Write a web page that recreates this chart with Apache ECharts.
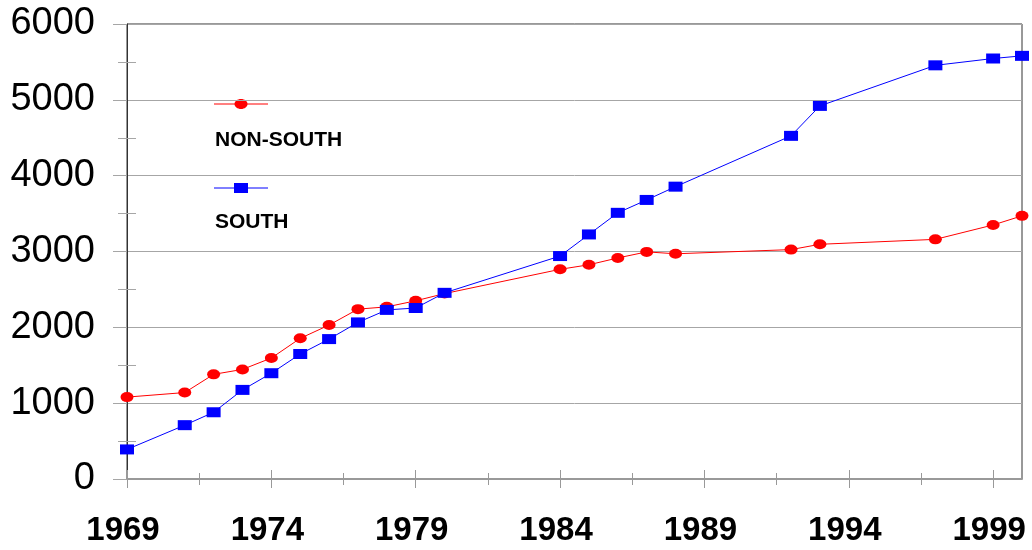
<!DOCTYPE html>
<html>
<head>
<meta charset="utf-8">
<script src="https://cdn.jsdelivr.net/npm/echarts@6/dist/echarts.min.js"></script>
<style>
    html, body {margin: 0; padding: 0; background: #fff;}
    #chart {width: 1032px; height: 550px;}
</style>
</head>
<body>
<div id="chart"></div>
<script>
var years = [1969, 1971, 1972, 1973, 1974, 1975, 1976, 1977, 1978, 1979, 1980,
    1984, 1985, 1986, 1987, 1988, 1992, 1993, 1997, 1999, 2000];
var nonSouth = [1080, 1140, 1380, 1445, 1595, 1855, 2030, 2240, 2270, 2350, 2445,
    2765, 2825, 2915, 2995, 2970, 3025, 3095, 3160, 3350, 3470];
var south = [390, 710, 880, 1175, 1395, 1648, 1845, 2065, 2230, 2255, 2455,
    2940, 3225, 3510, 3680, 3855, 4525, 4920, 5455, 5545, 5580];

var xLabels = [1969, 1974, 1979, 1984, 1989, 1994, 1999];
var xMinorTicks = [1971.5, 1976.5, 1981.5, 1986.5, 1991.5, 1996.5];

var fontName = '"Liberation Sans", Arial, sans-serif';
var gridPos = {left: 127, right: 10, top: 24, bottom: 71};

function pairs(vals) {
    return years.map(function (y, i) { return [y, vals[i]]; });
}

function plain(v) {
    return String(v);
}

// extra invisible grids only carry the crossing tick marks of the x axis
function tickXAxis(gridIndex, values, inside, len) {
    return {
        type: 'value', gridIndex: gridIndex, min: 1969, max: 2000,
        axisLine: {show: false},
        axisTick: {show: true, inside: inside, customValues: values, length: len, lineStyle: {color: '#999', width: 1}},
        axisLabel: {show: false},
        splitLine: {show: false}
    };
}
function blankYAxis(gridIndex) {
    return {type: 'value', gridIndex: gridIndex, min: 0, max: 6000, show: false};
}

var myChart = echarts.init(document.getElementById('chart'));

var grids = [];
for (var g = 0; g < 4; g++) {
    grids.push({left: gridPos.left, right: gridPos.right, top: gridPos.top, bottom: gridPos.bottom});
}
grids[0].show = true;
grids[0].borderColor = '#333';
grids[0].borderWidth = 1;

var option = {
    animation: false,
    grid: grids,
    xAxis: [
        {   type: 'value', gridIndex: 0, min: 1969, max: 2000,
            axisLine: {show: true, lineStyle: {color: '#999', width: 2}},
            axisTick: {show: true, customValues: xLabels, length: 9, lineStyle: {color: '#999', width: 1}},
            axisLabel: {customValues: xLabels, formatter: plain, margin: 35, color: '#000',
                fontFamily: fontName, fontWeight: 'bold', fontSize: 33, padding: [0, 8, 0, 0]},
            splitLine: {show: false}
        },
        tickXAxis(1, xLabels, true, 9),
        tickXAxis(2, xMinorTicks, false, 6),
        tickXAxis(3, xMinorTicks, true, 6)
    ],
    yAxis: [
        {   type: 'value', gridIndex: 0, min: 0, max: 6000, interval: 1000,
            axisLine: {show: true, lineStyle: {color: '#333', width: 1}},
            axisTick: {show: true, length: 14, lineStyle: {color: '#a6a6a6'}},
            minorTick: {show: true, splitNumber: 2, length: 9, lineStyle: {color: '#a6a6a6'}},
            axisLabel: {formatter: plain, margin: 32, color: '#000', fontFamily: fontName, fontSize: 38},
            splitLine: {show: true, lineStyle: {color: '#a6a6a6', width: 1}}
        },
        {   type: 'value', gridIndex: 1, min: 0, max: 6000, interval: 1000,
            axisLine: {show: false},
            axisTick: {show: false, inside: true},
            minorTick: {show: true, splitNumber: 2, length: 9, lineStyle: {color: '#a6a6a6'}},
            axisLabel: {show: false},
            splitLine: {show: false}
        },
        blankYAxis(2),
        blankYAxis(3)
    ],
    series: [
        {   name: 'NON-SOUTH', type: 'line', xAxisIndex: 0, yAxisIndex: 0,
            symbol: 'circle', symbolSize: [13, 10],
            lineStyle: {color: '#ff0000', width: 1},
            itemStyle: {color: '#ff0000'},
            data: pairs(nonSouth)
        },
        {   name: 'SOUTH', type: 'line', xAxisIndex: 0, yAxisIndex: 0,
            symbol: 'rect', symbolSize: [14, 10],
            lineStyle: {color: '#0000ff', width: 1},
            itemStyle: {color: '#0000ff'},
            data: pairs(south)
        }
    ],
    graphic: [
        {type: 'line', shape: {x1: 214, y1: 104, x2: 268, y2: 104}, style: {stroke: '#ff0000', lineWidth: 1}},
        {type: 'ellipse', shape: {cx: 241, cy: 104, rx: 6.5, ry: 5}, style: {fill: '#ff0000'}},
        {type: 'text', x: 215, y: 140, style: {text: 'NON-SOUTH', fill: '#000',
            font: 'bold 21px ' + fontName, verticalAlign: 'middle'}},
        {type: 'line', shape: {x1: 214, y1: 188, x2: 268, y2: 188}, style: {stroke: '#0000ff', lineWidth: 1}},
        {type: 'rect', shape: {x: 234, y: 183, width: 14, height: 10}, style: {fill: '#0000ff'}},
        {type: 'text', x: 215, y: 222, style: {text: 'SOUTH', fill: '#000',
            font: 'bold 21px ' + fontName, verticalAlign: 'middle'}}
    ]
};

myChart.setOption(option);
</script>
</body>
</html>
